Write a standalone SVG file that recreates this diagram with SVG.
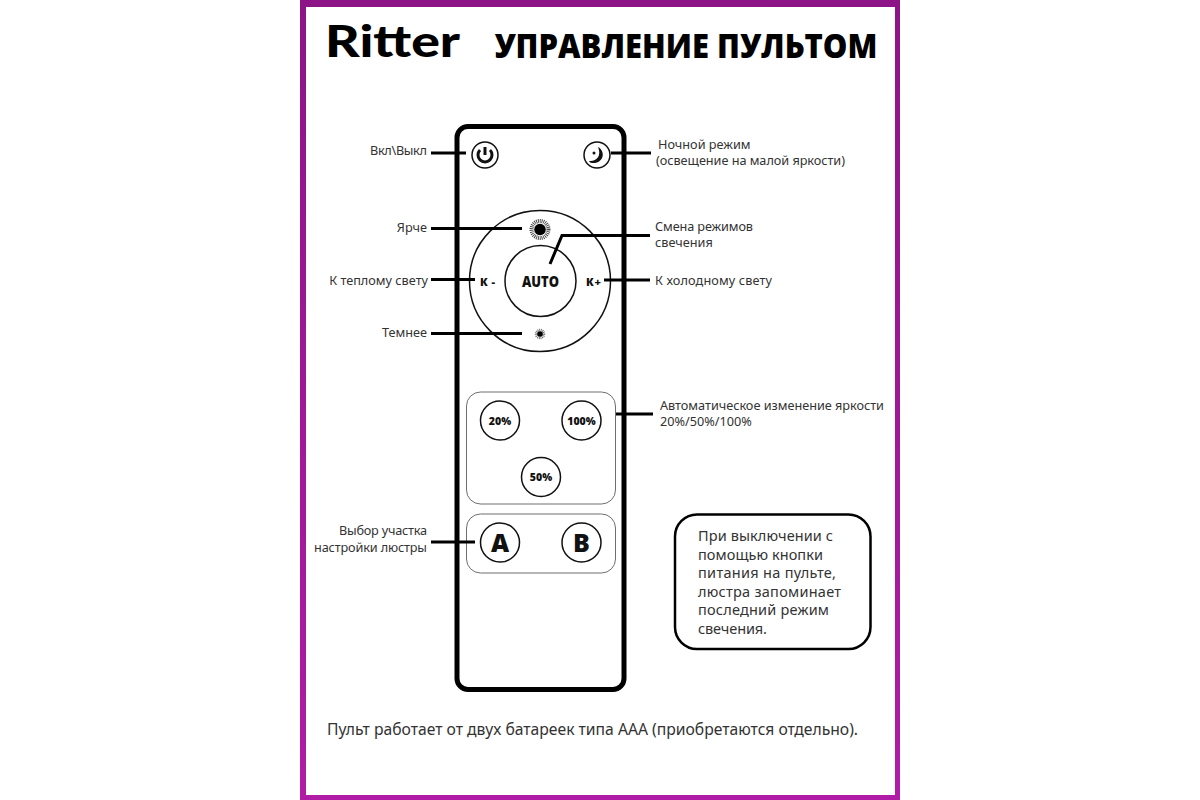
<svg xmlns="http://www.w3.org/2000/svg" width="1200" height="800" viewBox="0 0 1200 800">
<defs>
<linearGradient id="bd" x1="0" y1="0" x2="0" y2="1"><stop offset="0" stop-color="#8d1487"/><stop offset="1" stop-color="#b01ca6"/></linearGradient>
</defs>
<style>
text{font-family:"Noto Sans","Open Sans","DejaVu Sans",sans-serif;fill:#333}
.lb{font-size:12.7px}
.bt{font-family:"Open Sans","Noto Sans",sans-serif;font-weight:800;fill:#111;text-anchor:middle}
.note{font-size:14.5px}
.ln{fill:none;stroke:#000;stroke-width:3}
.thin{fill:#fff;stroke:#111;stroke-width:1.5}
.pan{fill:#fff;stroke:#6e6e6e;stroke-width:1}
</style>
<rect width="1200" height="800" fill="#fff"/>
<path fill-rule="evenodd" fill="url(#bd)" d="M300 0H900V800H300ZM306 7V795H895V7Z"/>
<g id="logo"><text x="325" y="57" font-size="43" font-weight="900" textLength="135" lengthAdjust="spacingAndGlyphs" style="font-family:'Lato','Noto Sans',sans-serif;fill:#000">Ritter</text></g>
<g id="title"><text x="686" y="58" text-anchor="middle" font-size="33" font-weight="800" textLength="383" lengthAdjust="spacingAndGlyphs" style="font-family:'Open Sans','Noto Sans',sans-serif;fill:#000">УПРАВЛЕНИЕ ПУЛЬТОМ</text></g>
<g id="remote"><rect x="457" y="126.500" width="167" height="563" rx="11" fill="#fff" stroke="#000" stroke-width="5"/></g>
<g id="panel-wheel"><circle cx="540" cy="281" r="70.500" class="thin"/></g>
<g id="panel-percent"><rect x="466.500" y="392" width="149" height="112" rx="14" class="pan"/></g>
<g id="panel-ab"><rect x="466.500" y="514" width="149" height="59" rx="14" class="pan"/></g>
<g id="btn-power"><circle cx="485" cy="155" r="13" class="thin"/><path d="M480 150A7 7 0 1 0 490 150M485 147V155" fill="none" stroke="#111" stroke-width="3"/></g>
<g id="btn-night"><circle cx="597" cy="155" r="13" class="thin"/><circle cx="594" cy="153" r="1.500" fill="#111"/><path d="M598 147C606 151 604 164 592 163C590.500 163 589.500 162 589 161C596 162 602 156 598 147Z" fill="#111"/></g>
<g id="btn-brighter"><circle cx="540" cy="229.500" r="8.500" fill="none" stroke="#444" stroke-width="4" stroke-dasharray="0.9 0.9"/><circle cx="540" cy="229.500" r="5.800" fill="#000"/></g>
<g id="btn-auto"><circle cx="540.500" cy="281" r="35.500" class="thin"/><text x="540.500" y="287" class="bt" font-size="16" textLength="37" lengthAdjust="spacingAndGlyphs">AUTO</text></g>
<g id="btn-kminus"><text x="487.500" y="286" class="bt" font-size="11" textLength="15">К -</text></g>
<g id="btn-kplus"><text x="593.500" y="286" class="bt" font-size="11" textLength="15">К +</text></g>
<g id="btn-dimmer"><circle cx="540" cy="334" r="4" fill="none" stroke="#666" stroke-width="2.500" stroke-dasharray="0.8 0.8"/><circle cx="540" cy="334" r="2.800" fill="#000"/></g>
<g id="btn-20"><circle cx="500" cy="420.500" r="19.500" class="thin"/><text x="500" y="424.500" class="bt" font-size="10.500">20%</text></g>
<g id="btn-100"><circle cx="581.500" cy="420.500" r="19.500" class="thin"/><text x="581.500" y="424.500" class="bt" font-size="10.500">100%</text></g>
<g id="btn-50"><circle cx="541" cy="477" r="19.500" class="thin"/><text x="541" y="481" class="bt" font-size="10.500">50%</text></g>
<g id="btn-a"><circle cx="500" cy="542.500" r="19.500" class="thin"/><text x="500" y="552" class="bt" font-size="25">A</text></g>
<g id="btn-b"><circle cx="581.500" cy="542.500" r="19.500" class="thin"/><text x="581.500" y="552" class="bt" font-size="25">B</text></g>
<g id="connectors" class="ln">
<path d="M431 153H466"/>
<path d="M611 153H651"/>
<path d="M431 228.500H522"/>
<path d="M431 279.500H475"/>
<path d="M431 333.500H522"/>
<path d="M604 280H650"/>
<path d="M550 264L562 235.500H650"/>
<path d="M616 414H653"/>
<path d="M431 542H475"/>
</g>
<g id="labels" class="lb">
<text x="427" y="155" text-anchor="end" textLength="57">Вкл\Выкл</text>
<text x="658" y="148.500">Ночной режим</text>
<text x="656" y="164.500" textLength="189">(освещение на малой яркости)</text>
<text x="427" y="232" text-anchor="end">Ярче</text>
<text x="655" y="230.500" textLength="98">Смена режимов</text>
<text x="655" y="246.500">свечения</text>
<text x="428" y="285" text-anchor="end">К теплому свету</text>
<text x="655" y="285" textLength="117">К холодному свету</text>
<text x="427" y="337" text-anchor="end">Темнее</text>
<text x="660" y="410" textLength="224">Автоматическое изменение яркости</text>
<text x="660" y="426">20%/50%/100%</text>
<text x="427" y="535" text-anchor="end" textLength="88">Выбор участка</text>
<text x="427" y="552" text-anchor="end" textLength="113">настройки люстры</text>
</g>
<g id="note"><rect x="675" y="514.500" width="195.500" height="134.500" rx="22" fill="#fff" stroke="#000" stroke-width="2.500"/>
<g class="note"><text x="698" y="541" textLength="135">При выключении с</text><text x="698" y="560" textLength="125">помощью кнопки</text><text x="698" y="578" textLength="138">питания на пульте,</text><text x="698" y="597" textLength="143">люстра запоминает</text><text x="698" y="615" textLength="131">последний режим</text><text x="698" y="634" textLength="69">свечения.</text></g></g>
<g id="footer"><text x="327" y="735" font-size="15.700">Пульт работает от двух батареек типа ААА (приобретаются отдельно).</text></g>
</svg>
